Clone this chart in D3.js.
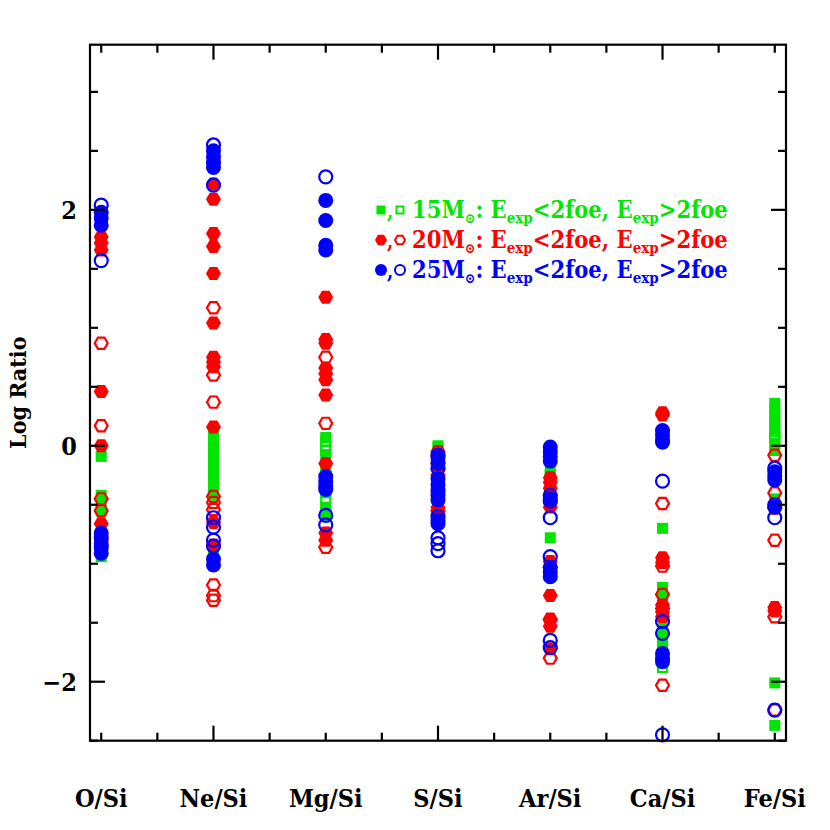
<!DOCTYPE html>
<html>
<head>
<meta charset="utf-8">
<script src="https://cdn.jsdelivr.net/npm/d3@7"></script>
<style>
  body { margin: 0; background: #fff; }
  text { font-family: "DejaVu Serif Condensed", "DejaVu Serif", serif; font-weight: bold; }
</style>
</head>
<body>
<svg id="chart" width="830" height="830"></svg>
<script>
// ratio categories along the x axis
const categories = ["O/Si", "Ne/Si", "Mg/Si", "S/Si", "Ar/Si", "Ca/Si", "Fe/Si"];
const yTickLabels = [-2, 0, 2];

// log ratios, one list per category (same order as categories)
const m15Low = [
  [-0.09, -0.42, -0.48, -0.55, -0.94],
  [0.10, 0.07, 0.03, -0.01, -0.05, -0.09, -0.14, -0.18, -0.21, -0.26, -0.30, -0.33, -0.38, -0.42, -0.87],
  [0.07, -0.08, -0.20, -0.31, -0.40, -0.52, -0.60],
  [0.00, -0.02],
  [-0.22, -0.78],
  [-0.70, -1.20, -1.25, -1.32, -1.45, -1.55, -1.62, -1.70, -1.78],
  [0.36, 0.31, 0.26, 0.21, 0.16, 0.12, 0.02, -0.04, -0.45, -2.01, -2.37]
];
const m15High = [
  [],
  [],
  [0.04, 0.00, -0.04, -0.24, -0.46, -0.55],
  [],
  [-0.25, -0.30, -0.36, -0.42, -0.46],
  [-1.84, -1.88],
  [0.09, 0.06]
];
const m20Low = [
  [1.77, 1.72, 1.66, 0.46, 0.00, -0.66, -0.80],
  [2.22, 2.09, 1.80, 1.69, 1.46, 1.04, 0.75, 0.71, 0.67, 0.16, -0.65, -0.84],
  [1.26, 0.90, 0.87, 0.66, 0.61, 0.56, 0.43, -0.15, -0.74, -0.80],
  [-0.07, -0.12, -0.20, -0.45, -0.52, -0.58],
  [-0.27, -0.31, -0.36, -0.42, -0.48, -0.52, -0.98, -1.27, -1.48, -1.53, -1.72],
  [0.28, 0.26, -0.95, -0.99, -1.35, -1.41, -1.45],
  [-0.53, -1.37, -1.40]
];
const m20High = [
  [0.87, 0.17, -0.45, -0.55],
  [1.17, 0.60, 0.37, -0.43, -0.48, -0.54, -1.18, -1.27, -1.31],
  [0.75, 0.19, -0.86],
  [-0.05, -0.15, -0.25, -0.40, -0.55],
  [-1.03, -1.47, -1.80],
  [-0.49, -1.02, -1.26, -1.38, -2.03],
  [-0.08, -0.40, -0.80, -1.45, -2.24]
];
const m25Low = [
  [1.98, 1.93, 1.87, -0.74, -0.83, -0.91],
  [2.50, 2.45, 2.40, 2.36, -0.96, -1.01],
  [2.08, 1.91, 1.70, 1.66, -0.26, -0.30, -0.34, -0.37],
  [-0.10, -0.15, -0.28, -0.33, -0.38, -0.42, -0.46, -0.63, -0.66],
  [-0.01, -0.05, -0.09, -0.13, -0.45, -1.03, -1.07, -1.11],
  [0.13, 0.09, 0.05, 0.03, -1.76, -1.80, -1.83],
  [-0.22, -0.26, -0.29, -0.52]
];
const m25High = [
  [2.04, 1.57, -0.78, -0.86],
  [2.55, 2.21, -0.61, -0.69, -0.80, -0.85],
  [2.28, -0.59, -0.67],
  [-0.08, -0.19, -0.60, -0.78, -0.83, -0.89],
  [-0.42, -0.47, -0.61, -0.94, -1.65, -1.71],
  [-0.30, -1.49, -1.59, -2.45],
  [-0.19, -0.50, -0.61, -2.24]
];

const green = "#00e600", red = "#ff0000", blue = "#0000ff";

const svg = d3.select("#chart");
const margin = {left: 90, right: 44, top: 44.7, bottom: 89.3};
const width = 830, height = 830;

const x = d3.scaleLinear().domain([0.9, 7.1]).range([margin.left, width - margin.right]);
const y = d3.scaleLinear().domain([-2.5, 3.4]).range([height - margin.bottom, margin.top]);

const plotL = x.range()[0], plotR = x.range()[1], plotT = y.range()[1], plotB = y.range()[0];

// flatten one series into {cat, v} points
function points(series){
  let out = [];
  series.forEach((vals, i) => vals.forEach(v => out.push({cat: i + 1, v: v})));
  return out;
}

const hexPath = r => {
  let p = [];
  for (let k = 0; k < 6; k++) {
    let a = Math.PI / 3 * k;
    p.push([r * Math.cos(a), r * Math.sin(a)]);
  }
  return "M" + p.map(q => q.join(",")).join("L") + "Z";
};

const markers = {
  sqFill: (g, s) => g.append("rect").attr("x", -s/2).attr("y", -s/2).attr("width", s).attr("height", s),
  sqOpen: (g, s) => g.append("rect").attr("x", -s/2 + 1).attr("y", -s/2 + 1).attr("width", s - 2).attr("height", s - 2),
  hexFill: (g, s) => g.append("path").attr("d", hexPath(s/2)),
  hexOpen: (g, s) => g.append("path").attr("d", hexPath(s/2 - 1)),
  cirFill: (g, s) => g.append("circle").attr("r", s/2),
  cirOpen: (g, s) => g.append("circle").attr("r", s/2 - 1)
};

function drawSeries(series, kind, color, size){
  let filled = kind.endsWith("Fill");
  let gs = svg.append("g").selectAll("g")
    .data(points(series))
    .enter()
    .append("g")
    .attr("transform", d => "translate(" + x(d.cat) + "," + y(d.v) + ")");
  gs.each(function(){
    let m = markers[kind](d3.select(this), size);
    if (filled) m.attr("fill", color);
    else m.attr("fill", "none").attr("stroke", color).attr("stroke-width", 2.2);
  });
}

drawSeries(m15Low, "sqFill", green, 11);
drawSeries(m15High, "sqOpen", green, 11);
drawSeries(m20Low, "hexFill", red, 15);
drawSeries(m20High, "hexOpen", red, 15);
drawSeries(m25Low, "cirFill", blue, 15);
drawSeries(m25High, "cirOpen", blue, 15);

// frame
svg.append("rect")
  .attr("x", plotL).attr("y", plotT)
  .attr("width", plotR - plotL).attr("height", plotB - plotT)
  .attr("fill", "none").attr("stroke", "#000").attr("stroke-width", 2.2);

// ticks on all four sides, pointing inwards
const xMinor = d3.range(1, 7.01, 0.5).filter(t => t % 2 != 0);
const xMajor = [2, 4, 6];
const yMinor = d3.range(-2.5, 3.41, 0.5).filter(t => Math.abs(t % 2) > 0.01);
const yMajor = yTickLabels;
const ticks = svg.append("g").attr("stroke", "#000").attr("stroke-width", 2.2);
[[xMinor, 8], [xMajor, 15]].forEach(([vals, len]) => {
  vals.forEach(t => {
    ticks.append("line").attr("x1", x(t)).attr("x2", x(t)).attr("y1", plotB).attr("y2", plotB - len);
    ticks.append("line").attr("x1", x(t)).attr("x2", x(t)).attr("y1", plotT).attr("y2", plotT + len);
  });
});
[[yMinor, 8], [yMajor, 15]].forEach(([vals, len]) => {
  vals.forEach(t => {
    ticks.append("line").attr("y1", y(t)).attr("y2", y(t)).attr("x1", plotL).attr("x2", plotL + len);
    ticks.append("line").attr("y1", y(t)).attr("y2", y(t)).attr("x1", plotR).attr("x2", plotR - len);
  });
});

// tick labels
svg.append("g").selectAll("text")
  .data(yTickLabels)
  .enter()
  .append("text")
  .attr("x", plotL - 13)
  .attr("y", d => y(d) + 9)
  .attr("text-anchor", "end")
  .style("font-size", "25px")
  .text(d => d < 0 ? "\u2212" + Math.abs(d) : d);

svg.append("g").selectAll("text")
  .data(categories)
  .enter()
  .append("text")
  .attr("x", (d, i) => x(i + 1))
  .attr("y", 807)
  .attr("text-anchor", "middle")
  .style("font-size", "25px")
  .text(d => d);

svg.append("text")
  .attr("transform", "translate(26," + ((plotT + plotB) / 2) + ") rotate(-90)")
  .attr("text-anchor", "middle")
  .style("font-size", "23px")
  .text("Log Ratio");

// legend
const legendRows = [
  {mass: "15", color: green, kinds: ["sqFill", "sqOpen"], size: 9, y: 218},
  {mass: "20", color: red, kinds: ["hexFill", "hexOpen"], size: 12, y: 248},
  {mass: "25", color: blue, kinds: ["cirFill", "cirOpen"], size: 12, y: 278}
];
legendRows.forEach(r => {
  let g = svg.append("g");
  r.kinds.forEach((k, i) => {
    let mg = g.append("g").attr("transform", "translate(" + (381 + i * 19) + "," + (r.y - 8) + ")");
    let m = markers[k](mg, r.size);
    if (k.endsWith("Fill")) m.attr("fill", r.color);
    else m.attr("fill", "none").attr("stroke", r.color).attr("stroke-width", 2);
  });
  g.append("text").attr("x", 387).attr("y", r.y).attr("fill", r.color).style("font-size", "20px").text(",");
  let t = g.append("text").attr("x", 412).attr("y", r.y).attr("fill", r.color).style("font-size", "23.5px");
  t.append("tspan").text(r.mass + "M");
  t.append("tspan").attr("dy", 5).style("font-size", "14px").text("\u2299");
  t.append("tspan").attr("dy", -5).text(": E");
  t.append("tspan").attr("dy", 5).style("font-size", "15px").text("exp");
  t.append("tspan").attr("dy", -5).text("<2foe, E");
  t.append("tspan").attr("dy", 5).style("font-size", "15px").text("exp");
  t.append("tspan").attr("dy", -5).text(">2foe");
});
</script>
</body>
</html>
